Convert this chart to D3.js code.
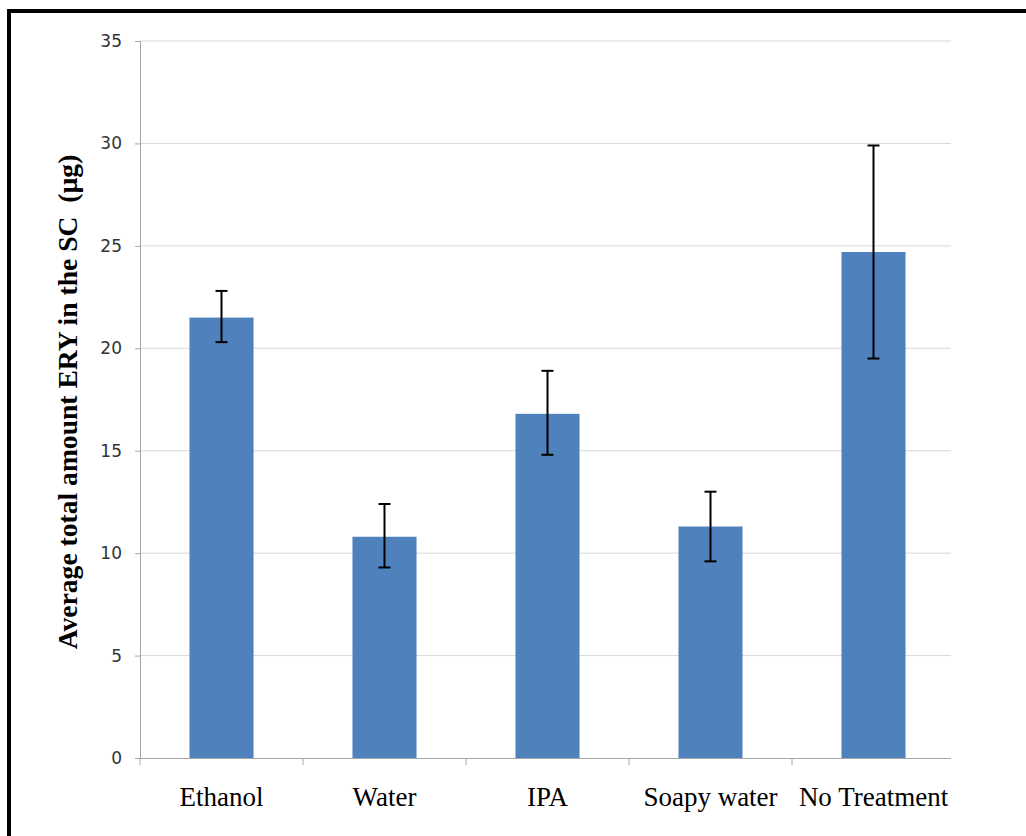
<!DOCTYPE html>
<html><head><meta charset="utf-8">
<script src="https://cdn.jsdelivr.net/npm/d3@7"></script>
<style>body{margin:0;background:#fff}</style>
</head><body>
<svg id="c" width="1026" height="836"></svg>
<script>
const categories = ["Ethanol", "Water", "IPA", "Soapy water", "No Treatment"];
const values = [21.5, 10.8, 16.8, 11.3, 24.7];
const errLow = [20.3, 9.3, 14.8, 9.6, 19.5];
const errHigh = [22.8, 12.4, 18.9, 13.0, 29.9];
const yTicks = [0, 5, 10, 15, 20, 25, 30, 35];
const yTitle = "Average total amount ERY in the SC  (µg)";

const svg = d3.select("#c");
const L = 140, R = 955, GR = 951, T = 41, B = 758;
// frame
svg.append("rect").attr("x", 9).attr("y", 11).attr("width", 1040).attr("height", 860)
  .attr("fill", "none").attr("stroke", "#000").attr("stroke-width", 4);

const x = d3.scaleBand().domain(categories).range([L, R]).paddingInner(0).paddingOuter(0);
const y = d3.scaleLinear().domain([0, 35]).range([B, T]);

// gridlines
svg.append("g").selectAll("line").data(yTicks.filter(d => d > 0)).join("line")
  .attr("x1", L).attr("x2", GR).attr("y1", d => y(d)).attr("y2", d => y(d))
  .attr("stroke", "#d9d9d9").attr("stroke-width", 1);

// y axis
const ya = svg.append("g").attr("transform", `translate(${L},0)`)
  .call(d3.axisLeft(y).tickValues(yTicks).tickSize(5).tickPadding(13));
ya.select(".domain").attr("stroke", "#a6a6a6");
ya.selectAll(".tick line").attr("stroke", "#a6a6a6");
ya.selectAll("text").attr("font-family", "DejaVu Sans, sans-serif").attr("font-size", 17).attr("fill", "#333");

// bars
const bw = x.bandwidth() * 0.393;
svg.append("g").selectAll("rect").data(categories).join("rect")
  .attr("x", d => x(d) + x.bandwidth() / 2 - bw / 2)
  .attr("width", bw)
  .attr("y", (d, i) => y(values[i]))
  .attr("height", (d, i) => y(0) - y(values[i]))
  .attr("fill", "#4f81bd");

// x axis
const xa = svg.append("g").attr("transform", `translate(0,${B})`)
  .call(d3.axisBottom(x).tickSize(0).tickPadding(29));
xa.select(".domain").attr("stroke", "#a6a6a6").attr("d", `M${L},0.5H${GR}`);
xa.selectAll("text").attr("font-family", "Liberation Serif, serif").attr("font-size", 27).attr("fill", "#000");
// category boundary ticks
const bounds = categories.map(c => x(c));
svg.append("g").selectAll("line").data(bounds).join("line")
  .attr("x1", d => d).attr("x2", d => d).attr("y1", B).attr("y2", B + 7)
  .attr("stroke", "#a6a6a6");

// error bars
const eg = svg.append("g").attr("stroke", "#000").attr("stroke-width", 2);
categories.forEach((c, i) => {
  const cx = x(c) + x.bandwidth() / 2;
  eg.append("line").attr("x1", cx).attr("x2", cx).attr("y1", y(errLow[i])).attr("y2", y(errHigh[i]));
  eg.append("line").attr("x1", cx - 6).attr("x2", cx + 6).attr("y1", y(errLow[i])).attr("y2", y(errLow[i]));
  eg.append("line").attr("x1", cx - 6).attr("x2", cx + 6).attr("y1", y(errHigh[i])).attr("y2", y(errHigh[i]));
});

// y title
svg.append("text").attr("transform", `translate(77,402) rotate(-90)`)
  .attr("text-anchor", "middle").attr("font-family", "Liberation Serif, serif")
  .style("white-space", "pre")
  .attr("font-weight", "bold").attr("font-size", 27.6).text(yTitle);
</script>
</body></html>
